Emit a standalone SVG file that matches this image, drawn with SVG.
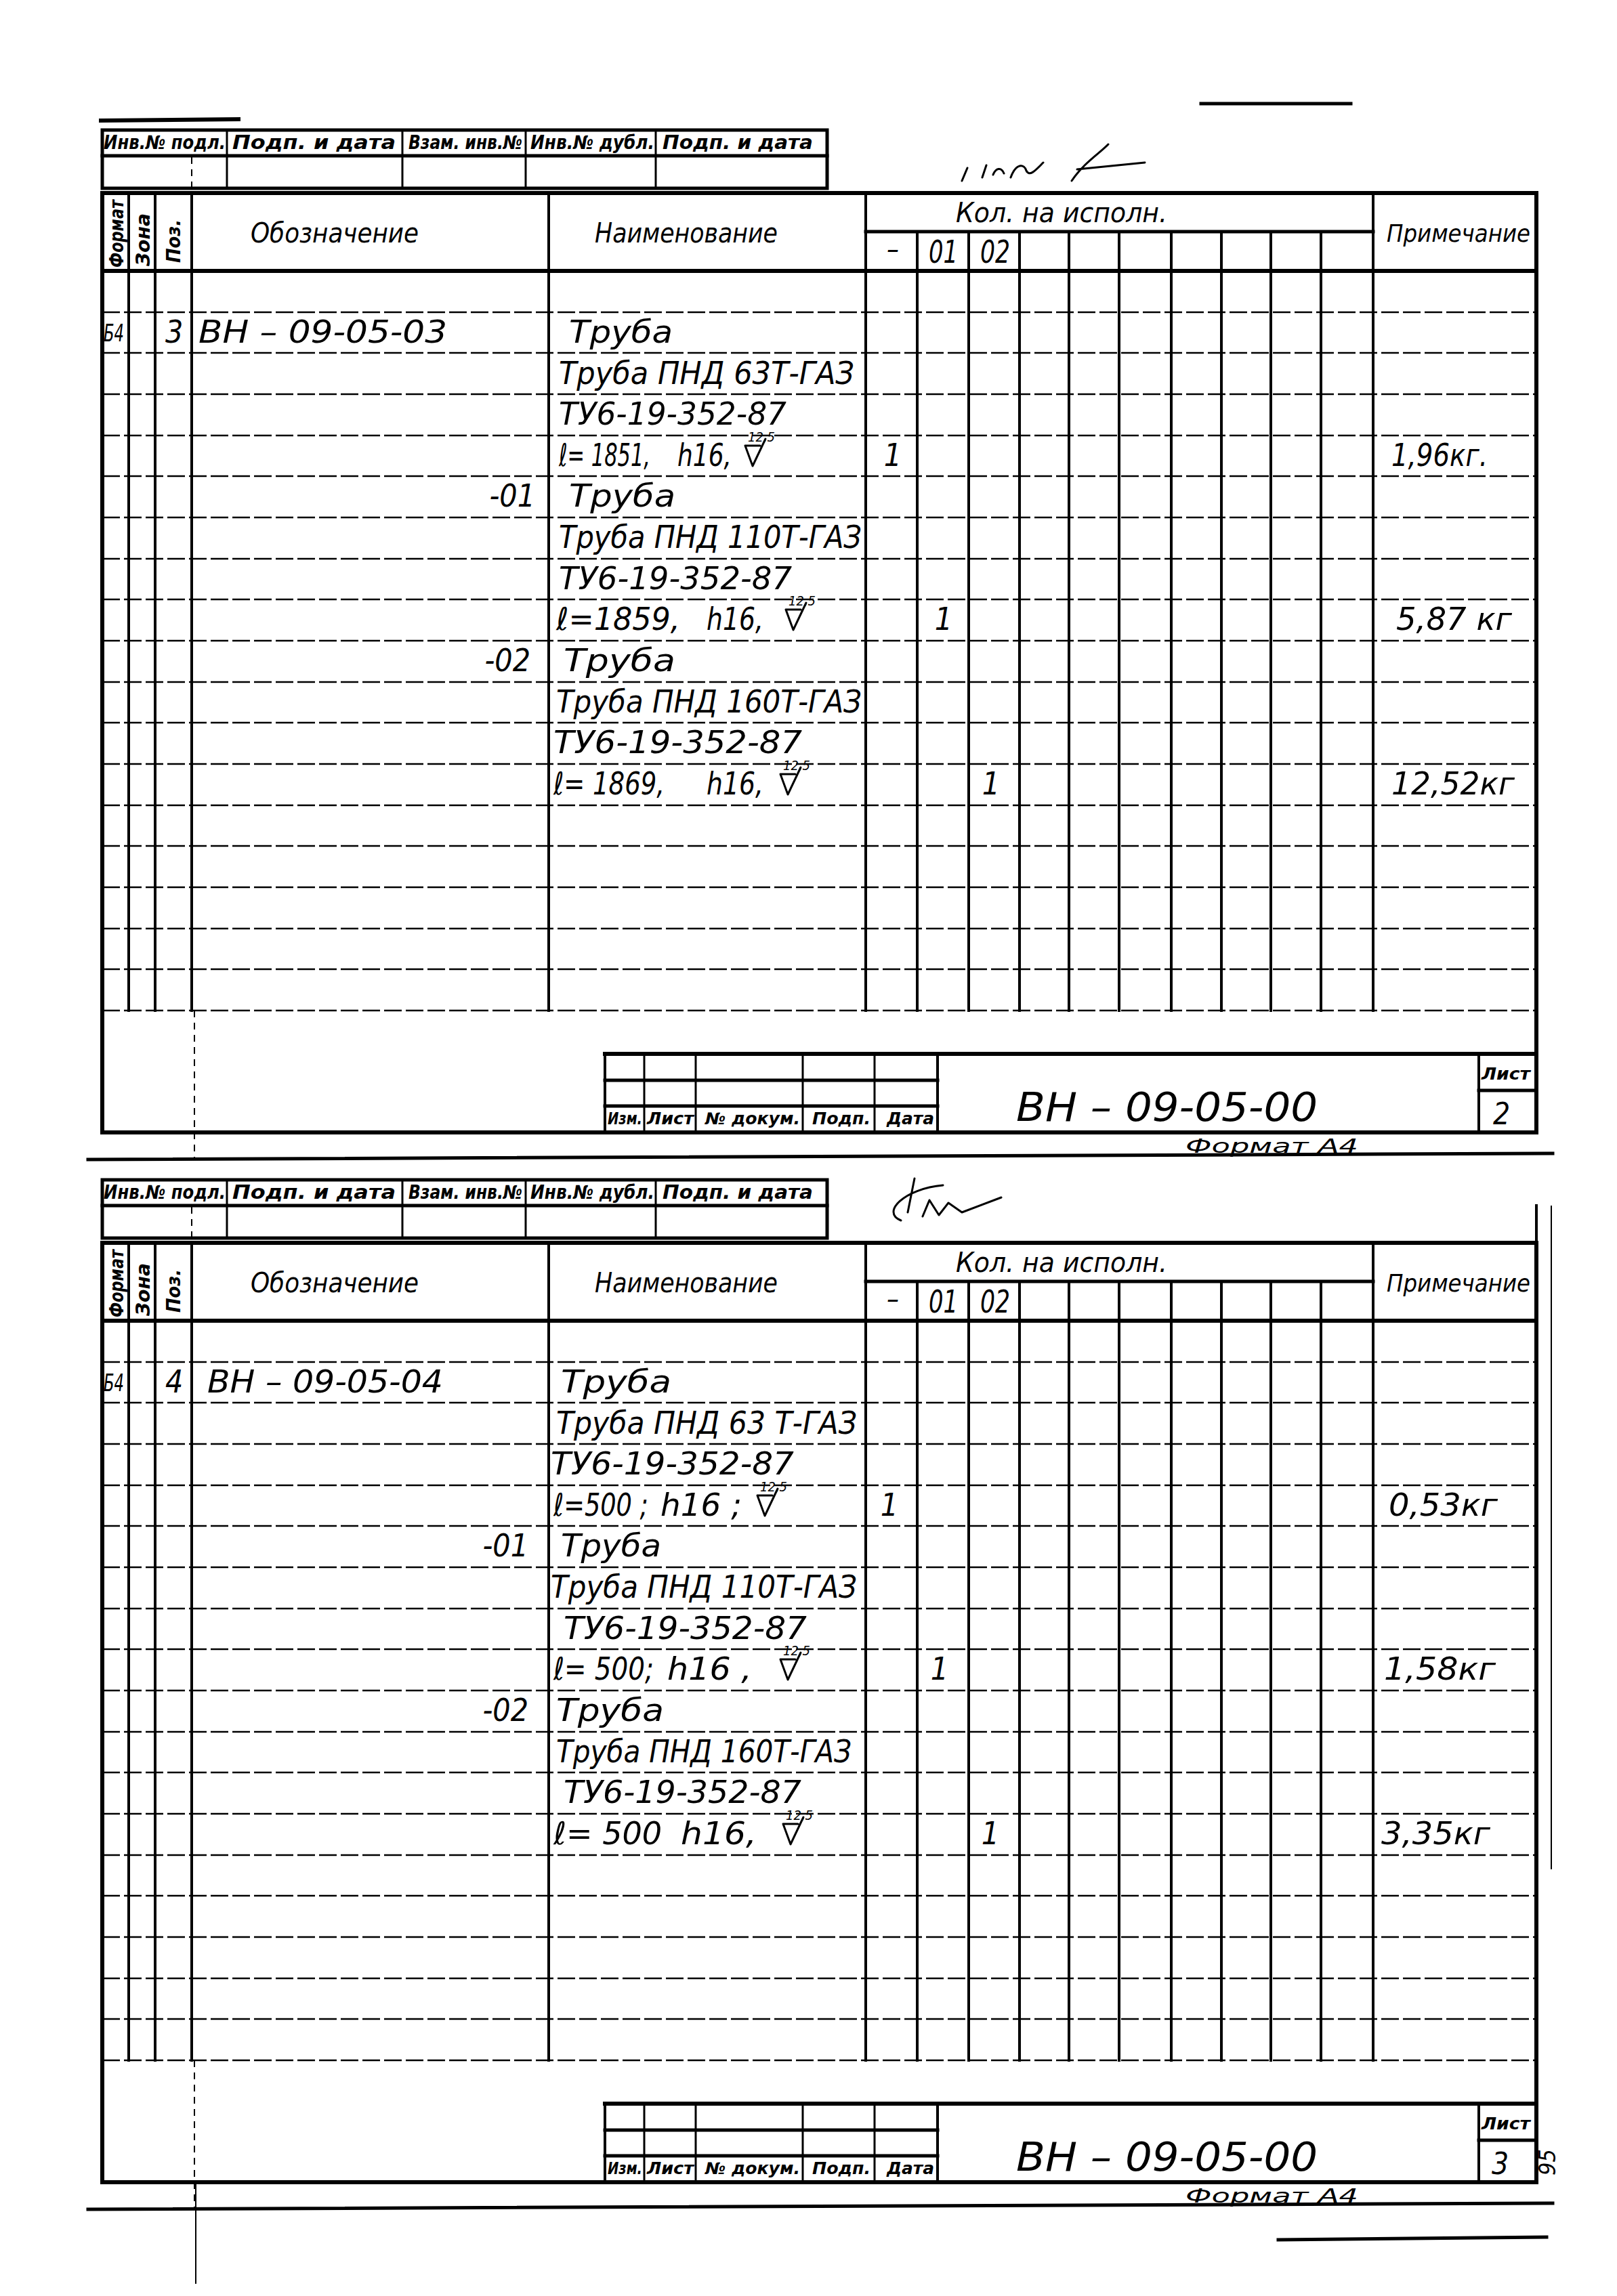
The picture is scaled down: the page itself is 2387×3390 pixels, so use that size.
<svg xmlns="http://www.w3.org/2000/svg" xmlns:xlink="http://www.w3.org/1999/xlink" width="2387" height="3390" viewBox="0 0 2387 3390">
<style>
.k{stroke:#000;fill:none;stroke-linecap:square}
.w6{stroke-width:6}.w5{stroke-width:5}.w4{stroke-width:4}.w3{stroke-width:3}
.row{stroke:#000;stroke-width:2.5;stroke-dasharray:26 6;fill:none}
.dash{stroke:#000;stroke-width:2;stroke-dasharray:10 8;fill:none}
.thin{stroke:#000;stroke-width:2;fill:none}
.rs{stroke:#000;stroke-width:3;fill:none;stroke-linejoin:round;stroke-linecap:round}
text{font-family:"Liberation Sans Narrow","DejaVu Sans Condensed","Liberation Sans",sans-serif;font-style:italic;fill:#000}
.h{font-size:28px;font-weight:bold}
.hd{font-size:40px}
.r{font-size:46px}
.sm{font-size:36px}
.sup{font-size:20px}
.tb{font-size:24px;font-weight:bold}
.big{font-size:58px}
.sig{stroke:#000;stroke-width:3;fill:none;stroke-linecap:round;stroke-linejoin:round}
</style>
<defs>
<path id="rough" class="rs" d="M0 -30H22M0 -30L11 0L30 -40"/>
<g id="form">
  <!-- top strip -->
  <rect class="k w5" x="151" y="192" width="1070" height="86"/>
  <path class="k w5" d="M151 230H1221"/>
  <path class="k w3" d="M335 192V278M594 192V278M776 192V278M968 192V278"/>
  <path class="dash" d="M283 232V278"/>
  <text class="h" x="153" y="220" textLength="180" lengthAdjust="spacingAndGlyphs">Инв.№ подл.</text>
  <text class="h" x="343" y="220" textLength="241" lengthAdjust="spacingAndGlyphs">Подп. и дата</text>
  <text class="h" x="603" y="220" textLength="168" lengthAdjust="spacingAndGlyphs">Взам. инв.№</text>
  <text class="h" x="783" y="220" textLength="183" lengthAdjust="spacingAndGlyphs">Инв.№ дубл.</text>
  <text class="h" x="978" y="220" textLength="222" lengthAdjust="spacingAndGlyphs">Подп. и дата</text>
  <!-- main table -->
  <path class="row" d="M151 461H2268M151 521H2268M151 582H2268M151 643H2268M151 703H2268M151 764H2268M151 825H2268M151 885H2268M151 946H2268M151 1007H2268M151 1067H2268M151 1128H2268M151 1189H2268M151 1249H2268M151 1310H2268M151 1371H2268M151 1431H2268M151 1492H2268"/>
  <path class="k w4" d="M190 285V1492M229 285V1492M283 285V1492M810 285V1492M1278 285V1492M2027 285V1492"/>
  <path class="k w4" d="M1354 342V1492M1430 342V1492M1505 342V1492M1578 342V1492M1652 342V1492M1729 342V1492M1803 342V1492M1876 342V1492M1950 342V1492"/>
  <path class="k w6" d="M151 285H2268V1672H151Z"/>
  <path class="k w6" d="M151 400H2268"/>
  <path class="k w5" d="M1278 342H2027"/>
  <path class="dash" d="M287 1492V1712"/>
  <text class="h" transform="translate(182,395) rotate(-90)" textLength="100" lengthAdjust="spacingAndGlyphs">Формат</text>
  <text class="h" transform="translate(221,393) rotate(-90)" textLength="78" lengthAdjust="spacingAndGlyphs">Зона</text>
  <text class="h" transform="translate(266,388) rotate(-90)" textLength="64" lengthAdjust="spacingAndGlyphs">Поз.</text>
  <text class="hd" x="370" y="358" textLength="248" lengthAdjust="spacingAndGlyphs">Обозначение</text>
  <text class="hd" x="878" y="358" textLength="270" lengthAdjust="spacingAndGlyphs">Наименование</text>
  <text class="hd" x="1411" y="328" textLength="312" lengthAdjust="spacingAndGlyphs">Кол. на исполн.</text>
  <text class="hd" x="1318" y="382" text-anchor="middle">–</text>
  <text class="r" x="1371" y="388" textLength="43" lengthAdjust="spacingAndGlyphs">01</text>
  <text class="r" x="1447" y="388" textLength="44" lengthAdjust="spacingAndGlyphs">02</text>
  <text class="sm" x="2047" y="357" textLength="212" lengthAdjust="spacingAndGlyphs">Примечание</text>
  <!-- title block -->
  <path class="k w6" d="M893 1556H2268"/>
  <path class="k w4" d="M893 1556V1672M1384 1556V1672M2183 1556V1672"/>
  <path class="k w3" d="M951 1556V1672M1027 1556V1672M1185 1556V1672M1291 1556V1672"/>
  <path class="k w5" d="M893 1595H1384M893 1633H1384M2183 1610H2268"/>
  <text class="tb" x="897" y="1660" textLength="51" lengthAdjust="spacingAndGlyphs">Изм.</text>
  <text class="tb" x="955" y="1660" textLength="69" lengthAdjust="spacingAndGlyphs">Лист</text>
  <text class="tb" x="1041" y="1660" textLength="140" lengthAdjust="spacingAndGlyphs">№ докум.</text>
  <text class="tb" x="1199" y="1660" textLength="86" lengthAdjust="spacingAndGlyphs">Подп.</text>
  <text class="tb" x="1309" y="1660" textLength="70" lengthAdjust="spacingAndGlyphs">Дата</text>
  <text class="tb" x="2187" y="1594" textLength="72" lengthAdjust="spacingAndGlyphs">Лист</text>
  <text class="big" x="1500" y="1655" textLength="445" lengthAdjust="spacingAndGlyphs">ВН – 09-05-00</text>
  <text class="sm" x="1750" y="1702" textLength="255" lengthAdjust="spacingAndGlyphs" style="font-size:28px">Формат А4</text>
  <path class="k w5" d="M130 1712L2292 1703"/>
</g>
</defs>

<rect x="0" y="0" width="2387" height="3390" fill="#fff"/>

<g id="sheet-2">
  <use xlink:href="#form" href="#form"/>
  <path class="k w6" d="M149 178L352 176"/>
  <path class="k w5" d="M1773 153H1994"/>
  <path class="sig" d="M1420 267L1428 248M1450 262L1456 244M1466 258C1470 248 1478 246 1482 256M1492 262C1500 240 1512 242 1515 252C1520 262 1530 250 1540 240M1582 267C1600 240 1625 225 1636 213M1590 250L1690 240"/>
  <text class="r" x="2204" y="1660" style="font-size:44px">2</text>
</g>

<g id="sheet-2-rows">
  <text class="sm" x="153" y="504" textLength="30" lengthAdjust="spacingAndGlyphs">Б4</text>
  <text class="r" x="244" y="506">3</text>
  <text class="r" x="293" y="506" textLength="367" lengthAdjust="spacingAndGlyphs">ВН – 09-05-03</text>
  <text class="r" x="840" y="506" textLength="153" lengthAdjust="spacingAndGlyphs">Труба</text>
  <text class="r" x="825" y="567" textLength="436" lengthAdjust="spacingAndGlyphs">Труба ПНД 63Т-ГАЗ</text>
  <text class="r" x="825" y="627" textLength="336" lengthAdjust="spacingAndGlyphs">ТУ6-19-352-87</text>
  <text class="r" x="825" y="688" textLength="135" lengthAdjust="spacingAndGlyphs">ℓ= 1851,</text>
  <text class="r" x="1000" y="688" textLength="80" lengthAdjust="spacingAndGlyphs">h16,</text>
  <text class="sup" x="1104" y="652">12,5</text>
  <use xlink:href="#rough" href="#rough" x="1100" y="688"/>
  <text class="r" x="1318" y="688" text-anchor="middle">1</text>
  <text class="r" x="2054" y="688" textLength="142" lengthAdjust="spacingAndGlyphs">1,96кг.</text>

  <text class="r" x="790" y="748" text-anchor="end">-01</text>
  <text class="r" x="840" y="748" textLength="157" lengthAdjust="spacingAndGlyphs">Труба</text>
  <text class="r" x="825" y="809" textLength="447" lengthAdjust="spacingAndGlyphs">Труба ПНД 110Т-ГАЗ</text>
  <text class="r" x="825" y="870" textLength="344" lengthAdjust="spacingAndGlyphs">ТУ6-19-352-87</text>
  <text class="r" x="821" y="930" textLength="183" lengthAdjust="spacingAndGlyphs">ℓ=1859,</text>
  <text class="r" x="1043" y="930" textLength="84" lengthAdjust="spacingAndGlyphs">h16,</text>
  <text class="sup" x="1164" y="894">12,5</text>
  <use xlink:href="#rough" href="#rough" x="1160" y="930"/>
  <text class="r" x="1393" y="930" text-anchor="middle">1</text>
  <text class="r" x="2061" y="930" textLength="171" lengthAdjust="spacingAndGlyphs">5,87 кг</text>

  <text class="r" x="783" y="991" text-anchor="end">-02</text>
  <text class="r" x="832" y="991" textLength="165" lengthAdjust="spacingAndGlyphs">Труба</text>
  <text class="r" x="821" y="1052" textLength="451" lengthAdjust="spacingAndGlyphs">Труба ПНД 160Т-ГАЗ</text>
  <text class="r" x="817" y="1112" textLength="367" lengthAdjust="spacingAndGlyphs">ТУ6-19-352-87</text>
  <text class="r" x="817" y="1173" textLength="164" lengthAdjust="spacingAndGlyphs">ℓ= 1869,</text>
  <text class="r" x="1043" y="1173" textLength="84" lengthAdjust="spacingAndGlyphs">h16,</text>
  <text class="sup" x="1156" y="1137">12,5</text>
  <use xlink:href="#rough" href="#rough" x="1152" y="1173"/>
  <text class="r" x="1463" y="1173" text-anchor="middle">1</text>
  <text class="r" x="2054" y="1173" textLength="182" lengthAdjust="spacingAndGlyphs">12,52кг</text>
</g>

<g id="sheet-3">
  <use xlink:href="#form" href="#form" transform="translate(0,1550)"/>
  <path class="thin" d="M2290 1780V2760"/>
  <path class="k w4" d="M2268 1780V1835"/>
  <path class="thin" d="M289 3222V3372"/>
  <path class="k w5" d="M1887 3307L2283 3303"/>
  <path class="sig" d="M1392 1750C1335 1755 1300 1790 1330 1802M1350 1740L1340 1790M1362 1796L1372 1772L1386 1794L1400 1776L1420 1790L1478 1768"/>
  <text class="r" x="2202" y="3210" style="font-size:44px">3</text>
  <text class="sm" transform="translate(2296,3212) rotate(-90)" style="font-size:34px">95</text>
</g>

<g id="sheet-3-rows">
  <text class="sm" x="153" y="2054" textLength="30" lengthAdjust="spacingAndGlyphs">Б4</text>
  <text class="r" x="244" y="2056">4</text>
  <text class="r" x="306" y="2056" textLength="348" lengthAdjust="spacingAndGlyphs">ВН – 09-05-04</text>
  <text class="r" x="828" y="2056" textLength="163" lengthAdjust="spacingAndGlyphs">Труба</text>
  <text class="r" x="821" y="2117" textLength="444" lengthAdjust="spacingAndGlyphs">Труба ПНД 63 Т-ГАЗ</text>
  <text class="r" x="813" y="2177" textLength="359" lengthAdjust="spacingAndGlyphs">ТУ6-19-352-87</text>
  <text class="r" x="817" y="2238" textLength="140" lengthAdjust="spacingAndGlyphs">ℓ=500 ;</text>
  <text class="r" x="975" y="2238" textLength="120" lengthAdjust="spacingAndGlyphs">h16 ;</text>
  <text class="sup" x="1122" y="2202">12,5</text>
  <use xlink:href="#rough" href="#rough" x="1118" y="2238"/>
  <text class="r" x="1313" y="2238" text-anchor="middle">1</text>
  <text class="r" x="2050" y="2238" textLength="161" lengthAdjust="spacingAndGlyphs">0,53кг</text>

  <text class="r" x="780" y="2298" text-anchor="end">-01</text>
  <text class="r" x="828" y="2298" textLength="148" lengthAdjust="spacingAndGlyphs">Труба</text>
  <text class="r" x="813" y="2359" textLength="452" lengthAdjust="spacingAndGlyphs">Труба ПНД 110Т-ГАЗ</text>
  <text class="r" x="832" y="2420" textLength="359" lengthAdjust="spacingAndGlyphs">ТУ6-19-352-87</text>
  <text class="r" x="817" y="2480" textLength="148" lengthAdjust="spacingAndGlyphs">ℓ= 500;</text>
  <text class="r" x="985" y="2480" textLength="125" lengthAdjust="spacingAndGlyphs">h16 ,</text>
  <text class="sup" x="1156" y="2444">12,5</text>
  <use xlink:href="#rough" href="#rough" x="1152" y="2480"/>
  <text class="r" x="1387" y="2480" text-anchor="middle">1</text>
  <text class="r" x="2043" y="2480" textLength="165" lengthAdjust="spacingAndGlyphs">1,58кг</text>

  <text class="r" x="780" y="2541" text-anchor="end">-02</text>
  <text class="r" x="821" y="2541" textLength="159" lengthAdjust="spacingAndGlyphs">Труба</text>
  <text class="r" x="821" y="2602" textLength="436" lengthAdjust="spacingAndGlyphs">Труба ПНД 160Т-ГАЗ</text>
  <text class="r" x="832" y="2662" textLength="351" lengthAdjust="spacingAndGlyphs">ТУ6-19-352-87</text>
  <text class="r" x="817" y="2723" textLength="160" lengthAdjust="spacingAndGlyphs">ℓ= 500</text>
  <text class="r" x="1005" y="2723" textLength="112" lengthAdjust="spacingAndGlyphs">h16,</text>
  <text class="sup" x="1160" y="2687">12,5</text>
  <use xlink:href="#rough" href="#rough" x="1156" y="2723"/>
  <text class="r" x="1462" y="2723" text-anchor="middle">1</text>
  <text class="r" x="2039" y="2723" textLength="161" lengthAdjust="spacingAndGlyphs">3,35кг</text>
</g>
</svg>
